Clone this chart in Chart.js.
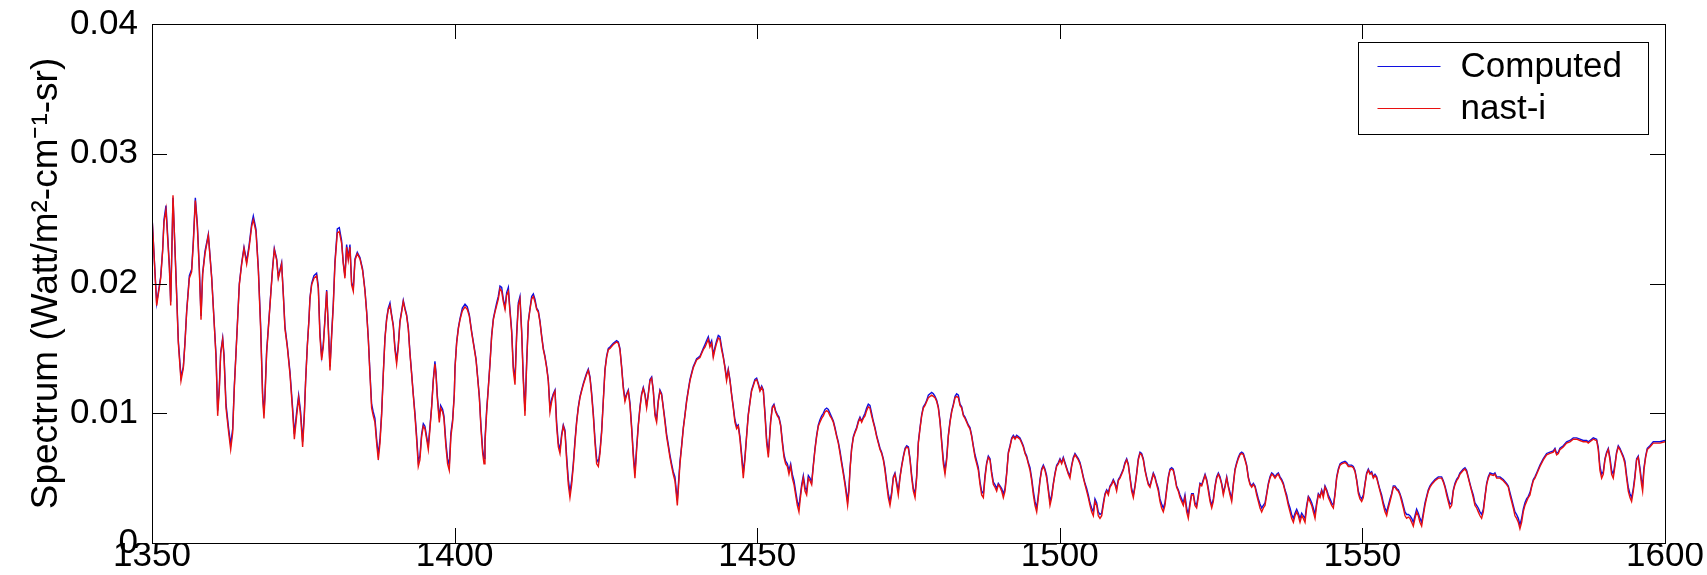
<!DOCTYPE html>
<html>
<head>
<meta charset="utf-8">
<script src="https://cdn.jsdelivr.net/npm/chart.js@4.4.0/dist/chart.umd.min.js"></script>
<style>
html,body{margin:0;padding:0;background:#fff;overflow:hidden;}
#wrap{width:1707px;height:575px;position:relative;}
</style>
</head>
<body>
<div id="wrap"><canvas id="c" width="1707" height="575"></canvas></div>
<script>
// ---- data ----
const wavenumber = [
1350.00,1350.77,1351.43,1351.76,1351.98,1352.31,1352.87,1353.09,1353.47,1353.97,
1354.35,1354.79,1355.18,1355.45,1355.73,1356.17,1356.55,1356.83,1357.16,1357.49,
1357.82,1358.10,1358.37,1358.76,1359.31,1359.86,1360.24,1360.58,1360.85,1361.13,
1361.35,1361.68,1361.90,1362.23,1362.67,1363.00,1363.33,1363.60,1363.88,1364.15,
1364.43,1364.82,1365.20,1365.64,1366.03,1366.47,1366.74,1367.18,1367.57,1367.95,
1368.28,1368.50,1368.67,1368.94,1369.33,1369.66,1369.94,1370.21,1370.60,1370.87,
1371.42,1371.70,1371.97,1372.36,1372.80,1373.24,1373.52,1373.90,1374.23,1374.56,
1374.89,1375.17,1375.39,1375.66,1375.94,
1376.10,1376.38,1376.76,1377.20,1377.48,1377.75,1378.03,1378.30,1378.58,1378.86,
1379.13,1379.41,1379.68,1379.96,1380.23,1380.62,1380.95,1381.33,1381.61,1381.88,
1382.16,1382.43,1382.71,1382.98,1383.26,1383.54,1383.92,1384.36,1384.80,1385.19,
1385.46,1385.74,1386.01,1386.29,1386.56,1386.84,1387.12,1387.39,1387.67,1387.94,
1388.22,1388.49,1388.77,1389.04,1389.32,1389.59,1389.87,1390.14,1390.42,1390.69,
1390.97,1391.25,1391.52,1391.80,1392.07,1392.35,1392.62,1392.90,1393.17,1393.45,
1393.72,1394.00,1394.27,1394.55,1394.83,1395.10,1395.38,1395.65,1395.93,1396.20,
1396.48,1396.75,1396.92,1397.14,1397.47,1397.69,1398.02,1398.24,1398.57,1398.84,
1399.12,1399.39,1399.67,1399.95,
1400.07,1400.34,1400.62,1400.89,1401.28,1401.72,1402.10,1402.43,1402.82,1403.20,
1403.54,1403.81,1404.09,1404.36,1404.64,1404.86,1405.02,1405.30,1405.57,1405.85,
1406.12,1406.40,1406.67,1406.95,1407.22,1407.50,1407.78,1408.05,1408.33,1408.60,
1408.88,1409.15,1409.43,1409.70,1409.98,1410.25,1410.53,1410.80,1411.08,1411.35,
1411.63,1411.91,1412.18,1412.46,1412.73,1413.01,1413.28,1413.56,1413.83,1414.11,
1414.38,1414.66,1414.93,1415.21,1415.48,1415.76,1416.04,1416.31,1416.59,1416.86,
1417.14,1417.41,1417.69,1417.96,1418.24,1418.51,1418.79,1419.06,1419.34,1419.61,
1419.89,1420.17,1420.44,1420.72,1420.99,1421.27,1421.54,1421.82,1422.09,1422.37,
1422.64,1422.92,1423.20,1423.47,1423.75,1424.02,
1424.30,1424.57,1424.85,1425.12,1425.40,1425.67,1426.22,1426.77,1427.05,1427.32,
1427.60,1427.87,1428.15,1428.43,1428.70,1428.98,1429.25,1429.53,1429.80,1430.08,
1430.35,1430.63,1430.90,1431.18,1431.45,1431.73,1432.00,1432.28,1432.56,1432.83,
1433.11,1433.38,1433.66,1433.93,1434.21,1434.48,1434.76,1435.03,1435.31,1435.58,
1435.86,1436.13,1436.41,1436.58,1436.80,1437.02,1437.24,1437.51,1437.79,1438.06,
1438.34,1438.61,1438.89,1439.16,1439.44,1439.71,1439.99,1440.26,1440.54,1440.82,
1441.09,1441.37,1441.64,1441.92,1442.19,1442.47,1442.74,1443.02,1443.29,1443.57,
1443.84,1444.12,1444.39,1444.67,1444.94,1445.22,1445.50,1445.77,1446.05,1446.32,
1446.60,1446.87,1447.15,1447.42,1447.70,1447.97,1448.25,1448.52,1448.80,
1449.07,1449.35,1449.62,1449.91,1450.19,1450.46,1450.74,1451.01,1451.29,1451.56,
1451.84,1452.00,1452.22,1452.50,1452.77,1453.05,1453.33,1453.60,1453.88,1454.15,
1454.43,1454.70,1454.98,1455.25,1455.53,1455.80,1456.08,1456.35,1456.63,1456.90,
1457.07,1457.35,1457.62,1457.90,1458.17,1458.45,1458.72,1459.00,1459.27,1459.55,
1459.82,1460.10,1460.37,1460.65,1460.92,1461.20,1461.48,1461.75,1462.03,1462.30,
1462.58,1462.85,1463.13,1463.40,1463.68,1463.95,1464.23,1464.50,1464.78,1464.94,
1465.16,1465.33,1465.60,1465.88,1466.16,1466.43,1466.71,1466.98,1467.26,1467.53,
1467.81,1468.08,1468.36,1468.63,1468.91,1469.18,1469.46,1469.73,1470.01,1470.29,
1470.56,1470.84,1471.11,1471.39,1471.66,1471.94,1472.21,1472.49,1472.76,1473.04,
1473.31,1473.59,
1473.88,1474.15,1474.43,1474.70,1474.98,1475.25,1475.53,1475.80,1476.08,1476.35,
1476.63,1476.90,1477.18,1477.45,1477.73,1478.01,1478.28,1478.83,1479.11,1479.38,
1479.66,1479.93,1480.21,1480.48,1480.76,1481.03,1481.31,1481.58,1481.86,1482.14,
1482.41,1482.69,1482.96,1483.24,1483.51,1483.79,1484.06,1484.34,1484.61,1484.89,
1485.16,1485.44,1485.71,1485.99,1486.27,1486.54,1486.82,1487.09,1487.37,1487.64,
1487.92,1488.19,1488.47,1488.74,1489.02,1489.29,1489.57,1489.84,1490.12,1490.40,
1490.67,1490.95,1491.22,1491.50,1491.77,1492.05,1492.32,1492.60,1492.87,1493.15,
1493.42,1493.70,1493.97,1494.25,1494.53,1494.80,1495.08,1495.35,1495.63,1495.90,
1496.18,1496.45,1496.73,1497.00,1497.28,1497.55,1497.83,1498.10,1498.38,
1498.66,1498.93,1499.21,1499.48,1499.76,1500.03,1500.31,1500.58,1500.86,1501.13,
1501.41,1501.68,1501.96,1502.23,1502.51,1502.79,1503.06,1503.34,1503.61,1503.89,
1504.16,1504.44,1504.71,1504.99,1505.26,1505.54,1505.81,1506.09,1506.36,1506.64,
1506.92,1507.19,1507.47,1507.74,1508.02,1508.29,1508.57,1508.84,1509.12,1509.39,
1509.67,1509.94,1510.22,1510.49,1510.77,1511.05,1511.32,1511.60,1511.87,1512.15,
1512.42,1512.70,1512.97,1513.25,1513.52,1513.80,1514.07,1514.35,1514.62,1514.90,
1515.17,1515.45,1515.73,1516.00,1516.28,1516.55,1516.83,1517.10,1517.38,1517.65,
1517.93,1518.20,1518.48,1518.75,1519.03,1519.30,1519.58,1519.86,1520.13,1520.41,
1520.68,1520.96,1521.23,1521.51,1521.78,1522.06,1522.33,1522.61,1522.88,1523.16,
1523.45,1523.72,1524.00,1524.27,1524.55,1524.82,1525.10,1525.37,1525.65,1525.92,
1526.20,1526.47,1526.75,1527.02,1527.30,1527.58,1527.85,1528.13,1528.40,1528.68,
1528.95,1529.23,1529.50,1529.78,1530.05,1530.33,1530.60,1530.88,1531.15,1531.43,
1531.71,1531.98,1532.26,1532.53,1532.81,1533.08,1533.36,1533.63,1533.91,1534.18,
1534.46,1534.73,1535.01,1535.28,1535.56,1535.84,1536.11,1536.39,1536.66,1536.94,
1537.21,1537.49,1537.76,1538.04,1538.31,1538.59,1538.86,1539.14,1539.41,1539.69,
1539.97,1540.24,1540.52,1540.79,1541.07,1541.34,1541.62,1541.89,1542.17,1542.44,
1542.72,1542.99,1543.27,1543.54,1543.82,1544.10,1544.37,1544.65,1544.92,1545.20,
1545.47,1545.75,1546.02,1546.30,1546.57,1547.12,1547.40,1547.67,
1547.95,1548.22,1548.50,1548.78,1549.05,1549.33,1549.60,1549.88,1550.15,1550.43,
1550.70,1550.98,1551.25,1551.53,1551.80,1552.08,1552.36,1552.63,1552.91,1553.18,
1553.46,1553.73,1554.01,1554.28,1554.56,1554.83,1555.11,1555.38,1555.66,1555.93,
1556.21,1556.49,1556.76,1557.04,1557.31,1557.59,1557.86,1558.14,1558.41,1558.69,
1558.96,1559.24,1559.51,1559.79,1560.06,1560.34,1560.62,1560.89,1561.17,1561.44,
1561.99,1562.54,1563.09,1563.37,1563.64,1563.92,1564.19,1564.47,1564.75,1565.02,
1565.30,1565.57,1565.85,1566.12,1566.67,1566.95,1567.22,1567.50,1567.77,1568.05,
1568.32,1568.60,1568.88,1569.15,1569.43,1569.70,1569.98,1570.25,1570.53,1570.80,
1571.08,1571.63,1571.90,1572.18,1572.73,
1573.28,1573.83,1574.11,1574.38,1574.66,1574.93,1575.21,1575.48,1575.76,1576.03,
1576.31,1576.58,1576.86,1577.13,1577.41,1577.69,1577.96,1578.24,1578.51,1578.79,
1579.34,1579.89,1580.44,1580.99,1581.54,1581.82,1582.09,1582.37,1582.64,1583.19,
1583.74,1584.29,1584.84,1585.40,1585.95,1586.50,1587.05,1587.32,1587.60,1588.15,
1588.70,1588.97,1589.25,1589.53,1589.80,1590.08,1590.35,1590.63,1590.90,1591.18,
1591.45,1591.73,1592.00,1592.28,1592.55,1592.83,1593.10,1593.38,1593.66,1593.93,
1594.21,1594.48,1594.76,1595.03,1595.31,1595.58,1595.86,1596.13,1596.30,1596.52,
1596.80,1597.07,1597.51,1598.06,1599.16,1600.00
];

const nastI = [
.0252,.0183,.0204,.0225,.0247,.0257,.0212,.0183,.0268,.0204,
.0154,.0125,.0135,.0154,.0178,.0204,.0209,.0231,.0264,.0244,
.0210,.0172,.0207,.0223,.0237,.0204,.0172,.0143,.0098,.0119,
.0146,.0157,.0143,.0104,.0085,.0072,.0085,.0119,.0146,.0172,
.0199,.0215,.0227,.0215,.0227,.0244,.0249,.0240,.0210,.0165,
.0112,.0096,.0112,.0146,.0172,.0194,.0212,.0226,.0218,.0204,
.0215,.0191,.0165,.0151,.0130,.0101,.0080,.0098,.0112,.0098,
.0074,.0098,.0125,.0151,.0172,
.0188,.0199,.0204,.0206,.0196,.0159,.0141,.0151,.0172,.0194,
.0165,.0133,.0159,.0183,.0215,.0239,.0240,.0231,.0215,.0204,
.0228,.0218,.0228,.0199,.0194,.0218,.0223,.0219,.0210,.0194,
.0178,.0157,.0130,.0104,.0098,.0093,.0077,.0064,.0077,.0098,
.0130,.0157,.0172,.0180,.0183,.0175,.0167,.0149,.0138,.0151,
.0170,.0178,.0186,.0180,.0175,.0165,.0146,.0130,.0114,.0098,
.0080,.0059,.0064,.0082,.0090,.0088,.0080,.0072,.0088,.0104,
.0125,.0138,.0130,.0112,.0093,.0104,.0101,.0096,.0074,.0061,
.0056,.0082,.0093,.0114,
.0135,.0154,.0165,.0172,.0179,.0182,.0180,.0175,.0162,.0151,
.0141,.0127,.0112,.0088,.0069,.0061,.0077,.0101,.0119,.0138,
.0159,.0172,.0178,.0183,.0188,.0196,.0194,.0186,.0180,.0191,
.0194,.0178,.0162,.0133,.0122,.0159,.0183,.0188,.0162,.0125,
.0098,.0138,.0170,.0180,.0188,.0190,.0186,.0180,.0178,.0170,
.0159,.0149,.0143,.0135,.0125,.0101,.0109,.0114,.0117,.0090,
.0074,.0069,.0082,.0090,.0085,.0064,.0045,.0035,.0045,.0059,
.0077,.0093,.0104,.0112,.0117,.0122,.0126,.0130,.0133,.0127,
.0114,.0098,.0077,.0061,.0059,.0069,
.0085,.0109,.0133,.0143,.0149,.0150,.0153,.0155,.0154,.0149,
.0135,.0119,.0109,.0114,.0117,.0106,.0088,.0066,.0050,.0072,
.0090,.0104,.0114,.0119,.0114,.0104,.0114,.0125,.0127,.0117,
.0098,.0093,.0109,.0117,.0114,.0104,.0093,.0082,.0074,.0066,
.0059,.0053,.0048,.0040,.0029,.0045,.0061,.0074,.0088,.0098,
.0109,.0117,.0125,.0130,.0135,.0138,.0141,.0142,.0143,.0146,
.0149,.0151,.0154,.0157,.0151,.0154,.0143,.0149,.0154,.0158,
.0157,.0149,.0143,.0135,.0125,.0133,.0125,.0114,.0104,.0093,
.0088,.0090,.0080,.0066,.0050,.0064,.0082,.0098,.0108,
.0117,.0121,.0125,.0126,.0122,.0117,.0120,.0117,.0098,.0077,
.0066,.0077,.0093,.0104,.0106,.0101,.0098,.0096,.0090,.0077,
.0066,.0061,.0059,.0053,.0059,.0050,.0045,.0037,.0029,.0024,
.0032,.0043,.0050,.0040,.0037,.0050,.0048,.0045,.0059,.0072,
.0082,.0090,.0093,.0096,.0098,.0101,.0102,.0101,.0098,.0096,
.0093,.0088,.0082,.0077,.0069,.0061,.0053,.0045,.0035,.0029,
.0040,.0056,.0072,.0081,.0085,.0088,.0093,.0096,.0093,.0096,
.0098,.0102,.0105,.0104,.0098,.0093,.0088,.0082,.0077,.0072,
.0069,.0064,.0056,.0045,.0035,.0029,.0037,.0050,.0053,.0045,
.0037,.0050,
.0059,.0066,.0072,.0074,.0073,.0064,.0050,.0040,.0035,.0050,
.0077,.0088,.0098,.0104,.0106,.0109,.0112,.0114,.0113,.0112,
.0109,.0104,.0093,.0077,.0061,.0053,.0064,.0082,.0093,.0101,
.0106,.0112,.0113,.0112,.0106,.0104,.0098,.0096,.0093,.0090,
.0088,.0082,.0074,.0066,.0061,.0056,.0045,.0037,.0035,.0050,
.0061,.0066,.0064,.0053,.0045,.0043,.0040,.0045,.0043,.0040,
.0035,.0040,.0053,.0069,.0074,.0080,.0082,.0080,.0082,.0081,
.0080,.0077,.0074,.0069,.0066,.0061,.0056,.0048,.0037,.0029,
.0024,.0035,.0048,.0056,.0059,.0056,.0050,.0040,.0029,
.0035,.0045,.0053,.0059,.0061,.0064,.0061,.0065,.0061,.0057,
.0053,.0050,.0059,.0065,.0068,.0066,.0064,.0061,.0056,.0050,
.0045,.0040,.0035,.0029,.0024,.0021,.0032,.0029,.0021,.0019,
.0021,.0029,.0037,.0040,.0037,.0043,.0045,.0048,.0045,.0040,
.0048,.0050,.0053,.0056,.0061,.0064,.0060,.0050,.0040,.0035,
.0043,.0053,.0064,.0069,.0068,.0064,.0056,.0050,.0045,.0043,
.0048,.0053,.0050,.0045,.0040,.0032,.0027,.0024,.0029,.0040,
.0050,.0056,.0057,.0056,.0050,.0043,.0040,.0035,.0032,.0029,
.0035,.0024,.0019,.0029,.0037,.0037,.0029,.0027,.0035,.0045,
.0044,.0048,.0052,.0048,.0040,.0032,.0027,.0032,.0043,.0050,
.0053,.0050,.0045,.0037,.0043,.0050,.0043,.0037,.0032,.0045,
.0056,.0061,.0065,.0068,.0069,.0068,.0064,.0059,.0050,.0045,
.0043,.0045,.0043,.0037,.0032,.0027,.0024,.0027,.0029,.0037,
.0045,.0050,.0053,.0052,.0050,.0052,.0053,.0050,.0048,.0045,
.0040,.0035,.0029,.0024,.0019,.0016,.0021,.0024,.0021,.0016,
.0021,.0019,.0016,.0027,.0035,.0032,.0029,.0024,.0019,.0029,
.0037,.0035,.0040,.0035,.0043,.0040,.0035,.0032,.0029,.0027,
.0037,.0050,.0056,.0060,.0061,.0062,.0061,.0059,
.0059,.0059,.0058,.0055,.0048,.0038,.0034,.0032,.0035,.0045,
.0053,.0056,.0053,.0054,.0050,.0052,.0050,.0045,.0040,.0035,
.0029,.0024,.0021,.0027,.0032,.0037,.0043,.0043,.0041,.0040,
.0037,.0032,.0027,.0021,.0019,.0020,.0019,.0016,.0013,.0019,
.0024,.0021,.0016,.0013,.0021,.0029,.0035,.0040,.0043,.0045,
.0048,.0050,.0050,.0047,.0043,.0037,.0032,.0027,.0029,.0040,
.0045,.0048,.0050,.0053,.0056,.0057,.0055,.0050,.0045,.0040,
.0035,.0029,.0027,.0024,.0021,.0019,.0024,.0035,.0045,.0050,
.0053,.0052,.0053,.0050,.0050,
.0048,.0045,.0043,.0037,.0032,.0027,.0021,.0019,.0016,.0011,
.0016,.0024,.0029,.0032,.0035,.0037,.0043,.0048,.0050,.0053,
.0059,.0064,.0068,.0069,.0070,.0072,.0068,.0069,.0072,.0074,
.0077,.0078,.0080,.0080,.0079,.0078,.0078,.0077,.0078,.0080,
.0079,.0072,.0056,.0050,.0053,.0064,.0069,.0072,.0064,.0053,
.0050,.0059,.0069,.0074,.0072,.0069,.0066,.0061,.0050,.0040,
.0035,.0032,.0040,.0050,.0064,.0066,.0056,.0045,.0040,.0056,
.0066,.0072,.0074,.0077,.0077,.0078
];

const computed = [
.0252,.0185,.0205,.0226,.0249,.0260,.0214,.0186,.0266,.0206,
.0156,.0128,.0136,.0155,.0179,.0206,.0211,.0233,.0266,.0246,
.0212,.0175,.0208,.0225,.0238,.0205,.0173,.0145,.0102,.0121,
.0147,.0158,.0145,.0107,.0088,.0076,.0088,.0121,.0147,.0173,
.0200,.0216,.0228,.0217,.0229,.0246,.0252,.0242,.0212,.0168,
.0115,.0100,.0115,.0148,.0173,.0195,.0213,.0227,.0219,.0205,
.0216,.0192,.0167,.0152,.0132,.0104,.0084,.0101,.0114,.0101,
.0078,.0100,.0126,.0152,.0173,
.0189,.0200,.0206,.0208,.0198,.0162,.0144,.0153,.0173,.0195,
.0167,.0136,.0161,.0185,.0217,.0242,.0243,.0233,.0216,.0206,
.0230,.0220,.0230,.0201,.0196,.0219,.0224,.0220,.0211,.0195,
.0179,.0158,.0132,.0107,.0101,.0096,.0080,.0068,.0080,.0100,
.0131,.0158,.0173,.0181,.0185,.0176,.0168,.0151,.0141,.0152,
.0171,.0179,.0187,.0181,.0176,.0166,.0147,.0131,.0115,.0100,
.0083,.0063,.0067,.0084,.0092,.0090,.0082,.0075,.0090,.0105,
.0126,.0140,.0132,.0114,.0096,.0106,.0103,.0098,.0077,.0065,
.0060,.0085,.0095,.0115,
.0136,.0155,.0166,.0173,.0181,.0184,.0182,.0176,.0163,.0152,
.0142,.0128,.0113,.0090,.0072,.0065,.0080,.0103,.0120,.0139,
.0160,.0173,.0179,.0185,.0190,.0198,.0197,.0188,.0182,.0193,
.0197,.0180,.0164,.0136,.0126,.0161,.0185,.0190,.0164,.0128,
.0102,.0140,.0171,.0181,.0190,.0192,.0188,.0181,.0179,.0171,
.0160,.0150,.0144,.0136,.0126,.0104,.0111,.0115,.0118,.0093,
.0077,.0072,.0084,.0091,.0087,.0067,.0049,.0039,.0048,.0061,
.0079,.0094,.0105,.0113,.0118,.0123,.0127,.0131,.0134,.0128,
.0116,.0100,.0080,.0065,.0062,.0071,
.0087,.0110,.0134,.0144,.0150,.0151,.0154,.0156,.0155,.0150,
.0136,.0121,.0111,.0115,.0118,.0108,.0090,.0069,.0054,.0074,
.0091,.0105,.0115,.0120,.0115,.0106,.0115,.0126,.0128,.0118,
.0100,.0096,.0110,.0118,.0115,.0105,.0095,.0084,.0076,.0068,
.0061,.0055,.0051,.0043,.0033,.0048,.0063,.0075,.0089,.0099,
.0110,.0118,.0126,.0131,.0136,.0139,.0142,.0143,.0144,.0147,
.0150,.0153,.0156,.0159,.0153,.0156,.0145,.0151,.0156,.0160,
.0159,.0151,.0144,.0136,.0127,.0134,.0126,.0115,.0105,.0095,
.0090,.0091,.0082,.0069,.0054,.0066,.0083,.0099,.0109,
.0118,.0122,.0126,.0127,.0123,.0118,.0121,.0118,.0100,.0080,
.0069,.0079,.0094,.0105,.0107,.0102,.0099,.0097,.0091,.0079,
.0068,.0063,.0061,.0056,.0061,.0053,.0048,.0040,.0032,.0028,
.0035,.0045,.0052,.0043,.0040,.0052,.0050,.0047,.0060,.0073,
.0083,.0091,.0095,.0098,.0100,.0103,.0104,.0103,.0100,.0097,
.0094,.0089,.0083,.0078,.0071,.0063,.0055,.0047,.0038,.0032,
.0042,.0057,.0073,.0082,.0086,.0089,.0094,.0097,.0094,.0097,
.0100,.0104,.0107,.0106,.0100,.0094,.0089,.0083,.0078,.0073,
.0070,.0065,.0058,.0047,.0038,.0032,.0039,.0051,.0054,.0047,
.0040,.0051,
.0060,.0067,.0073,.0075,.0074,.0065,.0052,.0042,.0038,.0052,
.0078,.0089,.0099,.0105,.0107,.0110,.0114,.0116,.0115,.0113,
.0110,.0105,.0094,.0079,.0064,.0056,.0066,.0083,.0094,.0102,
.0107,.0113,.0115,.0114,.0107,.0105,.0099,.0097,.0094,.0091,
.0089,.0083,.0075,.0068,.0063,.0058,.0047,.0040,.0038,.0052,
.0062,.0067,.0065,.0055,.0047,.0045,.0042,.0046,.0044,.0042,
.0038,.0042,.0054,.0070,.0075,.0081,.0083,.0081,.0083,.0082,
.0081,.0078,.0075,.0070,.0067,.0062,.0058,.0050,.0040,.0032,
.0027,.0037,.0049,.0057,.0060,.0057,.0052,.0042,.0032,
.0037,.0046,.0054,.0060,.0062,.0065,.0062,.0066,.0062,.0058,
.0054,.0052,.0060,.0066,.0069,.0067,.0065,.0062,.0057,.0051,
.0046,.0042,.0037,.0031,.0027,.0024,.0034,.0031,.0024,.0022,
.0023,.0031,.0038,.0041,.0039,.0044,.0046,.0049,.0046,.0042,
.0049,.0051,.0054,.0057,.0062,.0065,.0061,.0051,.0042,.0037,
.0044,.0054,.0065,.0070,.0069,.0065,.0057,.0051,.0046,.0044,
.0049,.0054,.0051,.0046,.0042,.0034,.0030,.0027,.0031,.0041,
.0051,.0057,.0058,.0057,.0051,.0044,.0041,.0037,.0034,.0031,
.0037,.0027,.0022,.0031,.0038,.0038,.0031,.0029,.0037,.0046,
.0045,.0049,.0053,.0049,.0042,.0034,.0029,.0034,.0044,.0051,
.0054,.0051,.0046,.0039,.0044,.0051,.0044,.0039,.0034,.0046,
.0057,.0062,.0066,.0069,.0070,.0069,.0065,.0060,.0051,.0046,
.0044,.0046,.0044,.0039,.0034,.0030,.0027,.0029,.0031,.0038,
.0046,.0051,.0054,.0053,.0051,.0053,.0054,.0051,.0049,.0046,
.0041,.0037,.0031,.0027,.0022,.0019,.0023,.0026,.0023,.0019,
.0023,.0021,.0019,.0029,.0036,.0034,.0031,.0027,.0022,.0031,
.0038,.0036,.0041,.0037,.0044,.0041,.0037,.0034,.0031,.0029,
.0038,.0051,.0057,.0061,.0062,.0063,.0062,.0060,
.0060,.0060,.0059,.0056,.0049,.0040,.0036,.0034,.0037,.0046,
.0054,.0057,.0054,.0055,.0051,.0053,.0051,.0046,.0041,.0037,
.0031,.0027,.0024,.0029,.0034,.0038,.0044,.0044,.0042,.0041,
.0038,.0034,.0029,.0024,.0022,.0022,.0021,.0019,.0016,.0021,
.0026,.0023,.0019,.0016,.0023,.0031,.0036,.0041,.0044,.0046,
.0049,.0051,.0051,.0048,.0044,.0039,.0034,.0030,.0031,.0041,
.0046,.0049,.0051,.0054,.0057,.0058,.0056,.0051,.0046,.0041,
.0037,.0031,.0029,.0027,.0024,.0022,.0026,.0036,.0046,.0051,
.0054,.0053,.0054,.0051,.0051,
.0049,.0046,.0044,.0039,.0034,.0029,.0024,.0022,.0019,.0014,
.0019,.0026,.0031,.0034,.0036,.0039,.0044,.0049,.0051,.0054,
.0060,.0065,.0069,.0070,.0071,.0073,.0069,.0070,.0073,.0075,
.0078,.0079,.0081,.0081,.0080,.0079,.0079,.0078,.0079,.0081,
.0080,.0074,.0059,.0053,.0055,.0065,.0070,.0073,.0066,.0056,
.0053,.0061,.0070,.0075,.0073,.0070,.0067,.0063,.0052,.0043,
.0038,.0035,.0042,.0052,.0065,.0067,.0058,.0048,.0044,.0058,
.0067,.0073,.0075,.0078,.0078,.0079
];

const seriesNames = ['Computed', 'nast-i'];
const seriesColors = ['#1010e0', '#e81010'];
const xTicks = [1350, 1400, 1450, 1500, 1550, 1600];
const yTicks = [0, 0.01, 0.02, 0.03, 0.04];
const yTitle = 'Spectrum (Watt/m\u00B2-cm\u207B\u00B9-sr)';

// ---- chart ----
const FONT = '"Liberation Sans", Arial, Helvetica, sans-serif';
Chart.defaults.font.family = FONT;
Chart.defaults.color = '#000';

function toPoints(xs, ys) {
  const n = Math.min(xs.length, ys.length);
  const out = [];
  for (let i = 0; i < n; i++) out.push({x: xs[i], y: ys[i]});
  return out;
}

const axesBox = {
  id: 'axesBox',
  afterDatasetsDraw(chart) {
    const {ctx, chartArea: a, scales} = chart;
    const x = scales.x, y = scales.y;
    const L = 15;
    ctx.save();
    ctx.strokeStyle = '#000';
    ctx.lineWidth = 1;
    ctx.beginPath();
    xTicks.forEach(v => {
      const px = Math.round(x.getPixelForValue(v)) + 0.5;
      ctx.moveTo(px, a.bottom); ctx.lineTo(px, a.bottom - L);
      ctx.moveTo(px, a.top); ctx.lineTo(px, a.top + L);
    });
    yTicks.forEach(v => {
      const py = Math.round(y.getPixelForValue(v)) + 0.5;
      ctx.moveTo(a.left, py); ctx.lineTo(a.left + L, py);
      ctx.moveTo(a.right, py); ctx.lineTo(a.right - L, py);
    });
    ctx.stroke();
    ctx.strokeRect(Math.round(a.left) + 0.5, Math.round(a.top) + 0.5,
                   Math.round(a.right - a.left), Math.round(a.bottom - a.top));
    ctx.restore();
  }
};

const boxLegend = {
  id: 'boxLegend',
  afterDraw(chart) {
    const {ctx, chartArea: a} = chart;
    const w = 290, h = 92;
    const x0 = Math.round(a.right - 17 - w) + 0.5;
    const y0 = Math.round(a.top + 18) + 0.5;
    ctx.save();
    ctx.fillStyle = '#fff';
    ctx.fillRect(x0, y0, w, h);
    ctx.strokeStyle = '#000';
    ctx.lineWidth = 1;
    ctx.strokeRect(x0, y0, w, h);
    ctx.font = '35px ' + FONT;
    ctx.textBaseline = 'middle';
    ctx.textAlign = 'left';
    chart.data.datasets.forEach((ds, i) => {
      const yy = y0 + 24 + i * 42;
      ctx.strokeStyle = ds.borderColor;
      ctx.lineWidth = 1.2;
      ctx.beginPath();
      ctx.moveTo(x0 + 19, yy);
      ctx.lineTo(x0 + 82, yy);
      ctx.stroke();
      ctx.fillStyle = '#000';
      ctx.fillText(ds.label, x0 + 102, yy + 1);
    });
    ctx.restore();
  }
};

new Chart(document.getElementById('c'), {
  type: 'line',
  data: {
    datasets: [
      {label: seriesNames[0], data: toPoints(wavenumber, computed), borderColor: seriesColors[0],
       borderWidth: 1.4, pointRadius: 0, tension: 0, fill: false, order: 1},
      {label: seriesNames[1], data: toPoints(wavenumber, nastI), borderColor: seriesColors[1],
       borderWidth: 1.4, pointRadius: 0, tension: 0, fill: false, order: 0}
    ]
  },
  options: {
    responsive: false,
    animation: false,
    devicePixelRatio: 1,
    layout: {padding: {top: 24, right: 42, bottom: 0, left: 0}},
    plugins: {legend: {display: false}, tooltip: {enabled: false}},
    scales: {
      x: {
        type: 'linear', min: 1350, max: 1600,
        grid: {display: false, drawTicks: false},
        border: {display: false},
        ticks: {font: {size: 35}, color: '#000', padding: -8, maxRotation: 0, autoSkip: false,
                callback: v => String(v)},
        afterBuildTicks(s) { s.ticks = xTicks.map(v => ({value: v})); },
        afterFit(s) { s.height = 32; s.paddingLeft = 0; s.paddingRight = 0; }
      },
      y: {
        type: 'linear', min: 0, max: 0.04,
        grid: {display: false, drawTicks: false},
        border: {display: false},
        ticks: {font: {size: 35}, color: '#000', padding: 14,
                callback: v => String(v)},
        afterBuildTicks(s) { s.ticks = yTicks.map(v => ({value: v})); },
        afterFit(s) { s.width = 152; s.paddingTop = 0; s.paddingBottom = 0; },
        title: {display: true, text: yTitle, font: {size: 37}, color: '#000',
                padding: {top: 25, bottom: 0}}
      }
    }
  },
  plugins: [axesBox, boxLegend]
});
</script>
</body>
</html>
